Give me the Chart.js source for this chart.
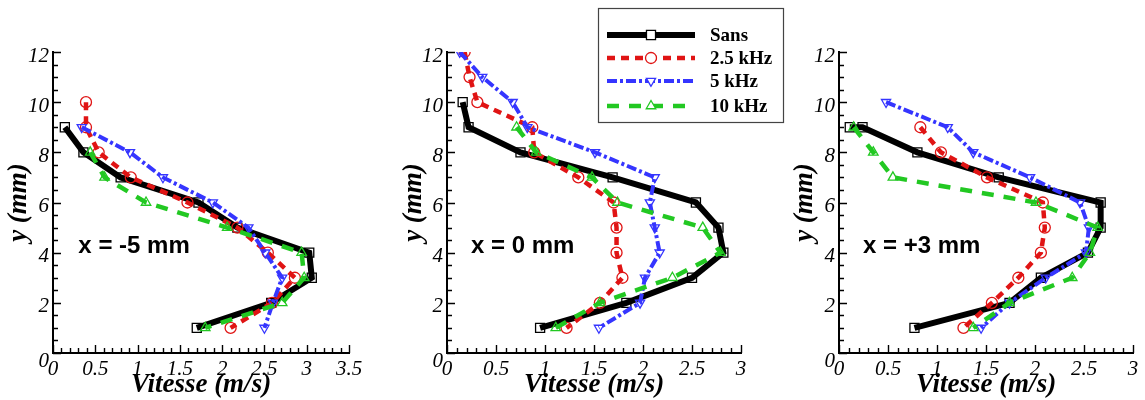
<!DOCTYPE html>
<html>
<head>
<meta charset="utf-8">
<script src="https://cdn.jsdelivr.net/npm/chart.js@4.4.1/dist/chart.umd.min.js"></script>
<style>
html, body { margin: 0; padding: 0; background: #fff; }
#wrap { position: relative; width: 1145px; height: 400px; overflow: hidden; }
.pane { position: absolute; top: 0; height: 400px; }
</style>
</head>
<body>
<div id="wrap">
  <div class="pane" style="left:0;width:380px"><canvas id="c1" width="380" height="400"></canvas></div>
  <div class="pane" style="left:380px;width:410px"><canvas id="c2" width="410" height="400"></canvas></div>
  <div class="pane" style="left:760px;width:385px"><canvas id="c3" width="385" height="400"></canvas></div>
</div>
<script>
const seriesNames = ['Sans', '2.5 kHz', '5 kHz', '10 kHz'];
const panelLabels = ['x = -5 mm', 'x = 0 mm', 'x = +3 mm'];
const xMax = [3.5, 3, 3];
const yMax = 12;

// x = -5 mm
const p1SansY = [9, 8, 7, 6, 5, 4, 3, 2, 1];
const p1SansV = [0.14, 0.36, 0.80, 1.72, 2.18, 3.03, 3.06, 2.58, 1.70];
const p1F25Y = [10, 9, 8, 7, 6, 5, 4, 3, 2, 1];
const p1F25V = [0.39, 0.39, 0.54, 0.92, 1.59, 2.18, 2.54, 2.86, 2.59, 2.10];
const p1F5Y = [9, 8, 7, 6, 5, 4, 3, 2, 1];
const p1F5V = [0.34, 0.91, 1.30, 1.89, 2.31, 2.51, 2.71, 2.60, 2.50];
const p1F10Y = [8, 7, 6, 5, 4, 3, 2, 1];
const p1F10V = [0.44, 0.61, 1.10, 2.06, 2.94, 2.97, 2.71, 1.80];

// x = 0 mm
const p2SansY = [10, 9, 8, 7, 6, 5, 4, 3, 2, 1];
const p2SansV = [0.16, 0.22, 0.75, 1.69, 2.54, 2.77, 2.82, 2.50, 1.83, 0.95];
const p2F25Y = [12, 11, 10, 9, 8, 7, 6, 5, 4, 3, 2, 1];
const p2F25V = [0.18, 0.23, 0.31, 0.87, 0.89, 1.34, 1.70, 1.73, 1.73, 1.79, 1.56, 1.22];
const p2F5Y = [12, 11, 10, 9, 8, 7, 6, 5, 4, 3, 2, 1];
const p2F5V = [0.13, 0.36, 0.67, 0.82, 1.51, 2.12, 2.07, 2.12, 2.17, 2.02, 1.97, 1.55];
const p2F10Y = [9, 8, 7, 6, 5, 4, 3, 2, 1];
const p2F10V = [0.71, 0.91, 1.48, 1.74, 2.61, 2.79, 2.30, 1.56, 1.11];

// x = +3 mm
const p3SansY = [9, 9, 8, 7, 6, 5, 4, 3, 2, 1];
const p3SansV = [0.11, 0.24, 0.80, 1.63, 2.67, 2.67, 2.54, 2.06, 1.74, 0.77];
const p3F25Y = [9, 8, 7, 6, 5, 4, 3, 2, 1];
const p3F25V = [0.83, 1.04, 1.51, 2.08, 2.10, 2.06, 1.83, 1.56, 1.27];
const p3F5Y = [10, 9, 8, 7, 6, 5, 4, 3, 2, 1];
const p3F5V = [0.48, 1.11, 1.37, 1.95, 2.46, 2.55, 2.52, 2.11, 1.74, 1.45];
const p3F10Y = [9, 8, 7, 6, 5, 4, 3, 2, 1];
const p3F10V = [0.15, 0.35, 0.55, 2.01, 2.64, 2.56, 2.38, 1.74, 1.37];

const styles = [
  { color: '#000000', width: 6, dash: [], point: 'rect', radius: 6.4, rot: 0 },
  { color: '#e01414', width: 4.5, dash: [8, 6], point: 'circle', radius: 5.5, rot: 0 },
  { color: '#3535ff', width: 4, dash: [10, 3, 3, 3], point: 'triangle', radius: 5.3, rot: 180 },
  { color: '#22c822', width: 4.5, dash: [12, 10], point: 'triangle', radius: 5.5, rot: 0 }
];

const pairs = (vx, vy) => vx.map((v, i) => ({ x: v, y: vy[i] }));

function makeSets(list) {
  return list.map(([vx, vy], i) => ({
    label: seriesNames[i],
    data: pairs(vx, vy),
    showLine: true,
    borderColor: styles[i].color,
    borderWidth: styles[i].width,
    borderDash: styles[i].dash,
    pointStyle: styles[i].point,
    pointRotation: styles[i].rot,
    pointRadius: styles[i].radius,
    pointBorderWidth: 1.3,
    pointBorderColor: styles[i].color,
    pointBackgroundColor: 'rgba(0,0,0,0)',
    order: 3 - i
  }));
}

const serif = "'Liberation Serif', 'Times New Roman', serif";
Chart.defaults.font.family = serif;
Chart.defaults.color = '#000';

const titleFont = { family: serif, size: 27, style: 'italic', weight: 'bold', lineHeight: 1 };
const fmt = v => String(Math.round(v * 10) / 10);

// inward ticks + italic labels, like the original plot package
const tecTicks = {
  id: 'tecTicks',
  afterDraw(chart) {
    const { ctx, chartArea: a, scales: { x, y } } = chart;
    ctx.save();
    ctx.strokeStyle = '#000';
    ctx.lineWidth = 1.4;
    ctx.beginPath();
    const nx = Math.round(x.max * 10);
    for (let i = 0; i <= nx; i++) {
      const px = Math.round(x.getPixelForValue(i / 10)) + 0.5;
      const len = i % 5 === 0 ? 8 : 5;
      ctx.moveTo(px, a.bottom);
      ctx.lineTo(px, a.bottom - len);
    }
    const ny = Math.round(y.max * 2);
    for (let i = 0; i <= ny; i++) {
      const py = Math.round(y.getPixelForValue(i / 2)) + 0.5;
      const len = i % 4 === 0 ? 8 : 5;
      ctx.moveTo(a.left, py);
      ctx.lineTo(a.left + len, py);
    }
    ctx.stroke();

    ctx.fillStyle = '#000';
    ctx.font = 'italic 21px ' + serif;
    ctx.textBaseline = 'alphabetic';
    ctx.textAlign = 'center';
    x.ticks.forEach(t => ctx.fillText(fmt(t.value), x.getPixelForValue(t.value), a.bottom + 22));
    ctx.textAlign = 'right';
    y.ticks.forEach(t => ctx.fillText(fmt(t.value), a.left - 4, y.getPixelForValue(t.value) + (t.value === 0 ? 14 : 9.5)));
    ctx.restore();
  }
};

const panelText = {
  id: 'panelText',
  afterDraw(chart, args, opts) {
    const { ctx, scales: { x, y } } = chart;
    ctx.save();
    ctx.fillStyle = '#000';
    ctx.font = "bold 24px 'Liberation Sans', Arial, sans-serif";
    ctx.textBaseline = 'alphabetic';
    ctx.fillText(opts.text, x.getPixelForValue(opts.x), y.getPixelForValue(opts.y));
    ctx.restore();
  }
};

const boxLegend = {
  id: 'boxLegend',
  afterDraw(chart, args, opts) {
    if (!opts.show) return;
    const ctx = chart.ctx;
    const { left, top, width, height } = opts;
    ctx.save();
    ctx.fillStyle = '#fff';
    ctx.fillRect(left, top, width, height);
    ctx.strokeStyle = '#444';
    ctx.lineWidth = 1.2;
    ctx.strokeRect(left + 0.5, top + 0.5, width, height);
    const rows = [27, 50, 73, 98];
    chart.data.datasets.forEach((ds, i) => {
      const yy = top + rows[i];
      ctx.strokeStyle = ds.borderColor;
      ctx.lineWidth = ds.borderWidth;
      ctx.setLineDash(ds.borderDash);
      ctx.beginPath();
      ctx.moveTo(left + 9, yy);
      ctx.lineTo(left + 97, yy);
      ctx.stroke();
      ctx.setLineDash([]);
      ctx.lineWidth = 1.3;
      ctx.fillStyle = '#fff';
      Chart.helpers.drawPoint(ctx, { pointStyle: ds.pointStyle, rotation: ds.pointRotation, radius: ds.pointRadius, borderWidth: 1.3 }, left + 53, yy);
      ctx.fillStyle = '#000';
      ctx.font = 'bold 19px ' + serif;
      ctx.textBaseline = 'middle';
      ctx.fillText(ds.label, left + 112, yy + 1);
    });
    ctx.restore();
  }
};

function makeChart(id, sets, idx, yAxisWidth, padRight, yTitlePad, textX, legend) {
  return new Chart(document.getElementById(id), {
    type: 'scatter',
    data: { datasets: makeSets(sets) },
    options: {
      responsive: false,
      animation: false,
      events: [],
      layout: { padding: { top: 52, right: padRight, left: 0, bottom: 0 } },
      plugins: {
        legend: { display: false },
        tooltip: { enabled: false },
        panelText: { text: panelLabels[idx], x: textX, y: 4.0 },
        boxLegend: legend || { show: false }
      },
      scales: {
        x: {
          type: 'linear', min: 0, max: xMax[idx],
          afterFit: s => { s.height = 47; },
          grid: { drawOnChartArea: false, drawTicks: false },
          border: { display: true, color: '#000', width: 2 },
          ticks: { stepSize: 0.5, autoSkip: false, display: false },
          title: { display: true, text: 'Vitesse (m/s)', color: '#000', padding: { top: 0, bottom: 1 },
                   font: titleFont }
        },
        y: {
          type: 'linear', min: 0, max: yMax,
          afterFit: s => { s.width = yAxisWidth; },
          grid: { drawOnChartArea: false, drawTicks: false },
          border: { display: true, color: '#000', width: 2 },
          ticks: { stepSize: 2, autoSkip: false, display: false },
          title: { display: true, text: 'y (mm)', color: '#000', padding: { top: yTitlePad, bottom: 0 },
                   font: titleFont }
        }
      }
    },
    plugins: [tecTicks, panelText, boxLegend]
  });
}

makeChart('c1', [[p1SansV, p1SansY], [p1F25V, p1F25Y], [p1F5V, p1F5Y], [p1F10V, p1F10Y]], 0, 53, 31, 6, 0.3);
makeChart('c2', [[p2SansV, p2SansY], [p2F25V, p2F25Y], [p2F5V, p2F5Y], [p2F10V, p2F10Y]], 1, 67, 49, 21, 0.245,
  { show: true, left: 218, top: 8, width: 185, height: 114 });
makeChart('c3', [[p3SansV, p3SansY], [p3F25V, p3F25Y], [p3F5V, p3F5Y], [p3F10V, p3F10Y]], 2, 79, 12, 32, 0.245);
</script>
</body>
</html>
